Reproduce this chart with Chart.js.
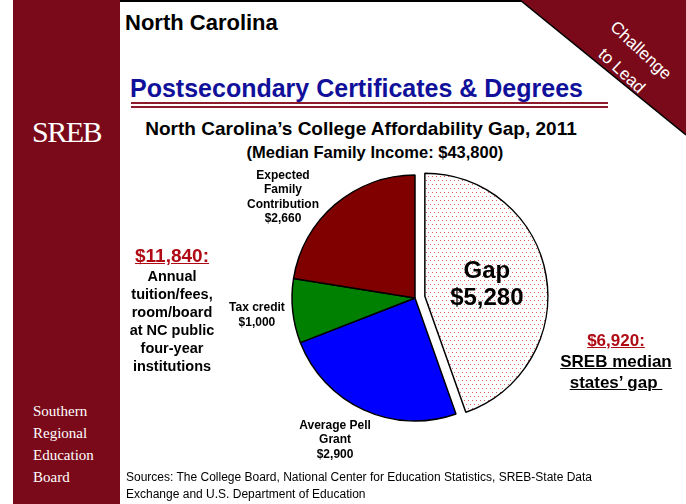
<!DOCTYPE html>
<html>
<head>
<meta charset="utf-8">
<script src="https://cdn.jsdelivr.net/npm/chart.js@4.4.1/dist/chart.umd.min.js"></script>
<style>
  html, body { margin: 0; padding: 0; background: #fff; }
  #slide { position: relative; width: 686px; height: 504px; overflow: hidden; background: #fff;
           font-family: "Liberation Sans", Arial, sans-serif; }
  #slide > div { position: absolute; }
  canvas { position: absolute; left: 0; top: 0; }
  .side { left: 13px; top: 0; width: 107px; height: 504px; background: #7a0a1a; }
  .sreb { left: 13px; width: 107px; top: 115px; text-align: center; color: #fff;
          font-family: "Liberation Serif", "Times New Roman", serif; font-size: 30px; line-height: 34px; letter-spacing: -1.5px; }
  .board { left: 33px; top: 400px; color: #fff; font-family: "Liberation Serif", "Times New Roman", serif;
           font-size: 15px; line-height: 22px; }
  .topline { left: 120px; top: 0; width: 402px; height: 2px; background: #000; }
  .corner { left: 571px; top: 33px; width: 120px; text-align: center; color: #fff; font-size: 17px;
            line-height: 28px; transform: rotate(43deg); transform-origin: 50% 50%; }
  .state { left: 125px; top: 10px; font-weight: bold; font-size: 22px; line-height: 26px; color: #000; }
  .heading { left: 130px; top: 73px; font-weight: bold; font-size: 25px; line-height: 30px; color: #10109a; }
  .rule1 { left: 131px; top: 102px; width: 477px; height: 2px; background: #8c1c2c; }
  .rule2 { left: 131px; top: 106px; width: 477px; height: 2px; background: #8c1c2c; }
  .ctitle { left: 111px; width: 500px; top: 118px; text-align: center; font-weight: bold; font-size: 19px; line-height: 22px; }
  .csub { left: 175px; width: 400px; top: 142px; text-align: center; font-weight: bold; font-size: 16.5px; line-height: 20px; }
  .note-left { left: 112px; width: 120px; top: 245px; text-align: center; font-weight: bold; font-size: 14.5px; line-height: 18px; }
  .amt { display: block; color: #b00a14; text-decoration: underline; }
  .note-left .amt { font-size: 19px; line-height: 22px; }
  .note-right { left: 551px; width: 130px; top: 330px; text-align: center; font-weight: bold; font-size: 17px; line-height: 21px; }
  .txt { display: block; text-decoration: underline; }
  .sources { left: 126px; top: 469px; font-size: 12px; line-height: 17px; color: #000; white-space: nowrap; }
</style>
</head>
<body>
<div id="slide">
  <div class="side"></div>
  <div class="sreb">SREB</div>
  <div class="board">Southern<br>Regional<br>Education<br>Board</div>
  <div class="topline"></div>
  <svg width="686" height="504" style="position:absolute;left:0;top:0">
    <polygon points="520,0 686,0 686,135" fill="#7a0a1a"/>
    <line x1="520" y1="0" x2="686" y2="135" stroke="#000" stroke-width="1.5"/>
  </svg>
  <div class="corner">Challenge<br>to Lead</div>
  <div class="state">North Carolina</div>
  <div class="heading">Postsecondary Certificates &amp; Degrees</div>
  <div class="rule1"></div>
  <div class="rule2"></div>
  <div class="ctitle">North Carolina’s College Affordability Gap, 2011</div>
  <div class="csub">(Median Family Income: $43,800)</div>
  <canvas id="pie" width="686" height="504"></canvas>
  <div class="note-left"><span class="amt" id="totalAmt"></span>Annual<br>tuition/fees,<br>room/board<br>at NC public<br>four-year<br>institutions</div>
  <div class="note-right"><span class="amt" id="medianAmt"></span><span class="txt">SREB median<br>states’ gap&nbsp;</span></div>
  <div class="sources">Sources: The College Board, National Center for Education Statistics, SREB-State Data<br>Exchange and U.S. Department of Education</div>
</div>
<script>
// cost pieces, clockwise from the top
const categories = ['Gap', 'Average Pell Grant', 'Tax credit', 'Expected Family Contribution'];
const amounts = [5280, 2900, 1000, 2660];
const srebMedianGap = 6920;

const money = v => '$' + v.toLocaleString('en-US');

// label text lines for each slice
const labelLines = [
  ['Gap', money(amounts[0])],
  ['Average Pell', 'Grant', money(amounts[1])],
  ['Tax credit', money(amounts[2])],
  ['Expected', 'Family', 'Contribution', money(amounts[3])]
];

// where each label sits, in radius units from the slice centre
const labelPos = [[0.504, -0.089], [-0.65, 1.154], [-1.285, 0.138], [-1.073, -0.821]];
const explode = [10, 0, 0, 0];

const total = amounts.reduce((a, b) => a + b, 0);
document.getElementById('totalAmt').textContent = money(total) + ':';
document.getElementById('medianAmt').textContent = money(srebMedianGap) + ':';

function dotPattern() {
  const c = document.createElement('canvas');
  c.width = 4; c.height = 8;
  const g = c.getContext('2d');
  g.fillStyle = '#fff';
  g.fillRect(0, 0, 4, 8);
  g.fillStyle = '#dc6060';
  g.fillRect(0, 0, 1, 1);
  g.fillRect(2, 4, 1, 1);
  return g.createPattern(c, 'repeat');
}

// pull slices outwards along their middle angle
const explodePlugin = {
  id: 'explode',
  afterDatasetUpdate(chart, args) {
    const meta = chart.getDatasetMeta(args.index);
    meta.data.forEach((arc, i) => {
      const d = explode[i] || 0;
      if (!d) return;
      const mid = (arc.startAngle + arc.endAngle) / 2;
      arc.x += Math.cos(mid) * d;
      arc.y += Math.sin(mid) * d;
    });
  }
};

const sliceLabels = {
  id: 'sliceLabels',
  afterDatasetsDraw(chart) {
    const ctx = chart.ctx;
    const meta = chart.getDatasetMeta(0);
    ctx.save();
    ctx.fillStyle = '#000';
    ctx.textAlign = 'center';
    ctx.textBaseline = 'middle';
    meta.data.forEach((arc, i) => {
      const r = arc.outerRadius;
      const cx = arc.x + labelPos[i][0] * r;
      const cy = arc.y + labelPos[i][1] * r;
      const big = i === 0;
      const lh = big ? 27 : 14.5;
      ctx.font = 'bold ' + (big ? 24 : 12) + 'px "Liberation Sans", Arial, sans-serif';
      const lines = labelLines[i];
      lines.forEach((t, k) => {
        ctx.fillText(t, cx, cy + (k - (lines.length - 1) / 2) * lh);
      });
    });
    ctx.restore();
  }
};

new Chart(document.getElementById('pie'), {
  type: 'pie',
  data: {
    labels: categories,
    datasets: [{
      data: amounts,
      backgroundColor: [dotPattern(), '#0000ff', '#008000', '#800000'],
      borderColor: '#000',
      borderWidth: 1.5
    }]
  },
  options: {
    responsive: false,
    animation: false,
    radius: 123,
    layout: { padding: { left: 160, right: 16, top: 110, bottom: 18 } },
    plugins: {
      legend: { display: false },
      tooltip: { enabled: false }
    }
  },
  plugins: [explodePlugin, sliceLabels]
});
</script>
</body>
</html>
